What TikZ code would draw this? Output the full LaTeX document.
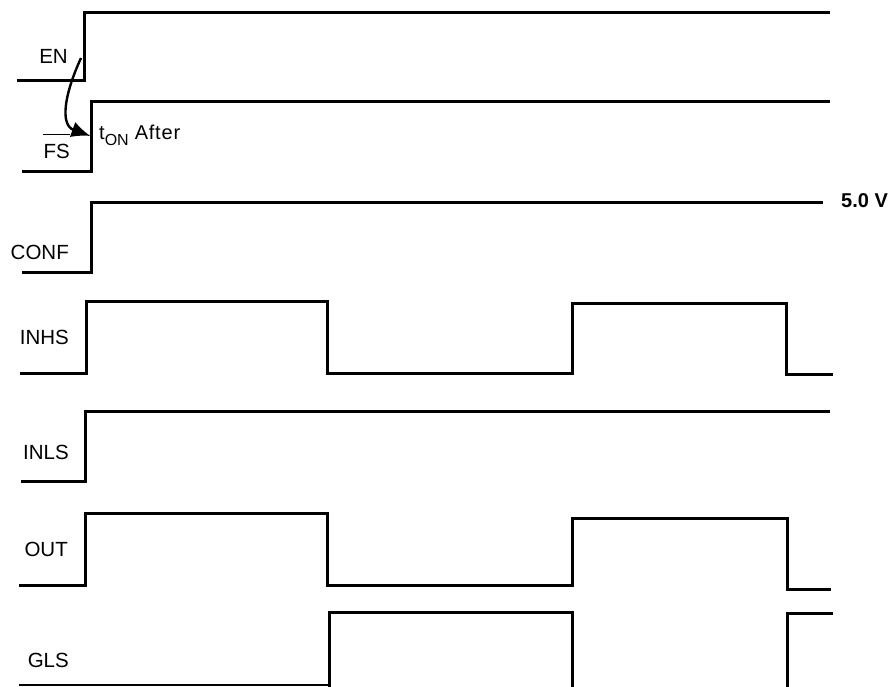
\documentclass[tikz,border=0pt]{standalone}
\usepackage{fontspec}
\setmainfont{Liberation Sans}
\usetikzlibrary{arrows.meta}
\begin{document}
\begin{tikzpicture}[x=1pt,y=-1pt,
  wave/.style={line width=3pt,line join=miter},
  lbl/.style={anchor=base east,inner sep=0pt,font=\fontsize{20.5}{24}\selectfont},
  causal/.style={line width=2.4pt,-{Latex[length=19pt,width=16pt]}}]
\useasboundingbox (0,0) rectangle (893,686);
% labels
\node[lbl] (en) at (68,63) {EN};
\node[lbl] (fs) at (70,158) {FS};
\draw[line width=1.4pt] ([yshift=9pt]fs.north west) -- ([yshift=9pt]fs.north east);
\node[lbl] (conf) at (69,259) {CONF};
\node[lbl] (inhs) at (69,344) {INHS};
\node[lbl] (inls) at (69,459) {INLS};
\node[lbl] (out) at (68,556) {OUT};
\node[lbl] (gls) at (69,667) {GLS};
\node[anchor=base west,inner sep=0pt] (ton) at (99,139)
  {\fontsize{20}{22}\selectfont t\raisebox{-6pt}{\fontsize{16}{18}\selectfont ON}\hspace{6pt}\addfontfeature{LetterSpace=4}After};
\node[anchor=base west,inner sep=0pt,font=\fontsize{20}{24}\selectfont\bfseries] (vref) at (841,207) {5.0 V};
% waveforms
\draw[wave] (17,80.5) -- (84,80.5) -- (84,12) -- (830,12);
\draw[wave] (22,171.5) -- (91,171.5) -- (91,101) -- (830,101);
\draw[wave] (22,272) -- (91,272) -- (91,202) -- (823,202);
\draw[wave] (20,373) -- (86,373) -- (86,301) -- (327,301) -- (327,373) -- (572,373) -- (572,303) -- (786,303) -- (786,374) -- (833,374);
\draw[wave] (21,481) -- (85,481) -- (85,411) -- (830,411);
\draw[wave] (19,585) -- (85,585) -- (85,513) -- (327,513) -- (327,585) -- (572,585) -- (572,518) -- (787,518) -- (787,589) -- (831,589);
\draw[line width=1.6pt] (19,684.8) -- (329,684.8);
\draw[wave] (329,687) -- (329,612) -- (572,612) -- (572,687);
\draw[wave] (787,687) -- (787,613) -- (833,613);
% causality arrow
\coordinate (enedge) at (81,58);
\coordinate (fsedge) at (90.5,136);
\draw[causal] (enedge) .. controls (64,95) and (60,125) .. (fsedge);
\end{tikzpicture}
\end{document}
